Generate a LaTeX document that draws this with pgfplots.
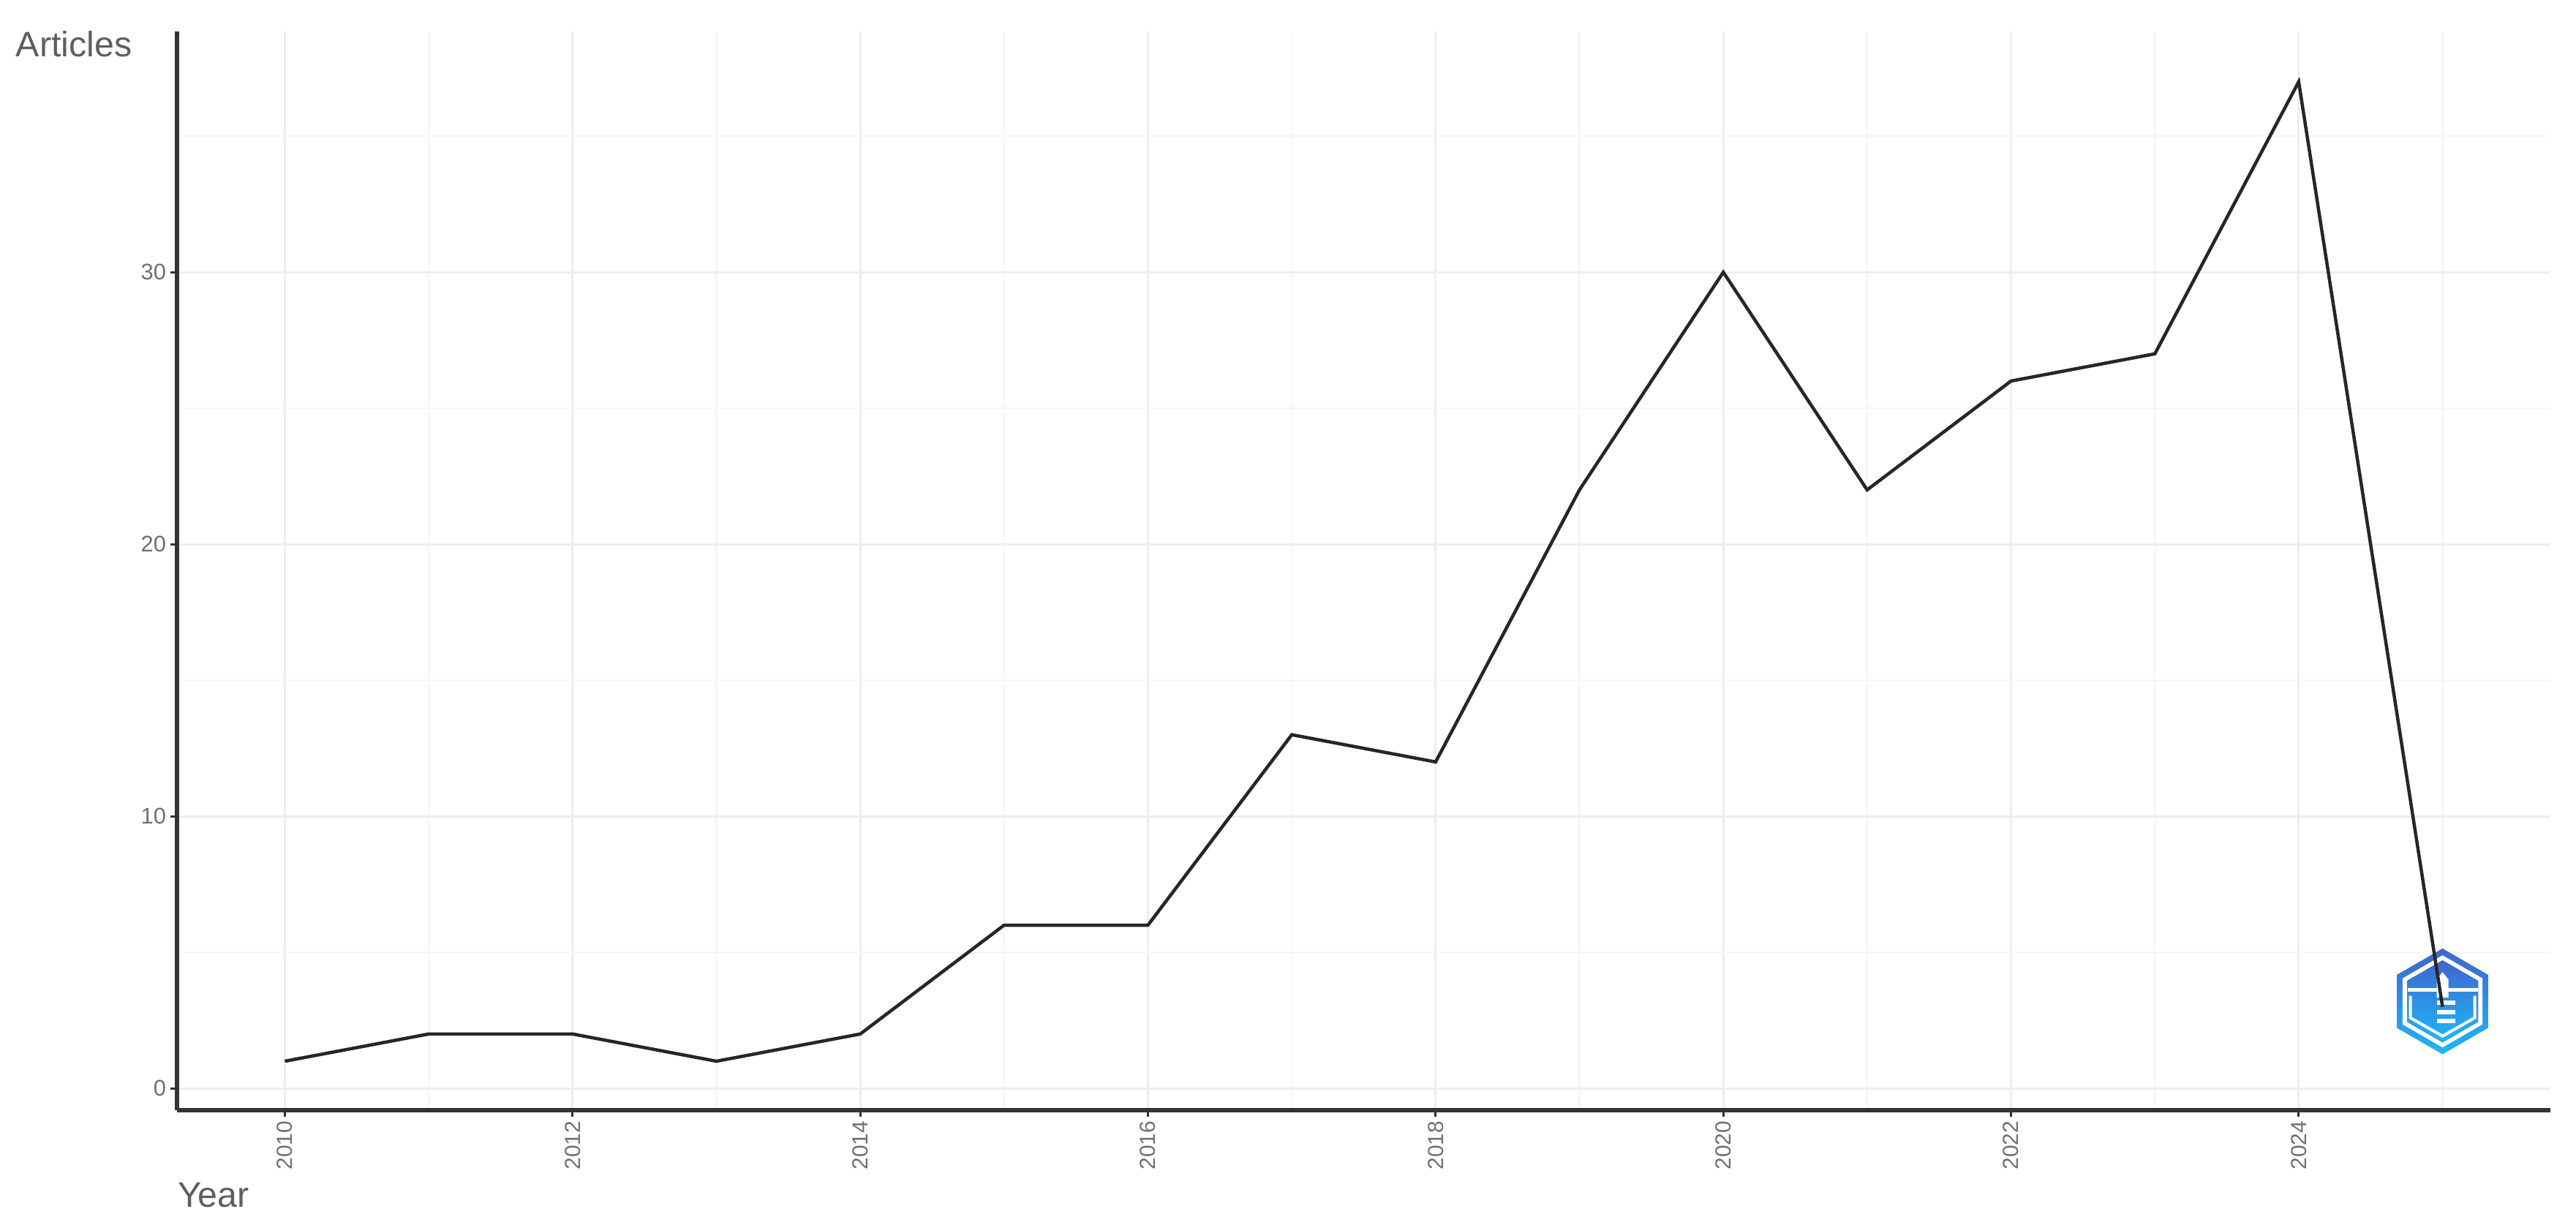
\documentclass[border=0pt]{standalone}
\usepackage{fontspec}
\setmainfont{Liberation Sans}
\usepackage{pgfplots}
\pgfplotsset{compat=1.18}
\definecolor{tickc}{HTML}{707070}
\definecolor{titlec}{HTML}{5E5E5E}
\definecolor{gridmaj}{HTML}{EEEEEE}
\definecolor{gridmin}{HTML}{F6F6F6}
\definecolor{spine}{HTML}{333333}
\definecolor{logotop}{HTML}{4065D0}
\definecolor{logobot}{HTML}{1BBAF7}
\newsavebox{\logobox}
\sbox{\logobox}{\begin{tikzpicture}
  \fill[top color=logotop, bottom color=logobot] (90:14.4bp) -- (150:14.4bp) -- (210:14.4bp) -- (270:14.4bp) -- (330:14.4bp) -- (30:14.4bp) -- cycle;
  \fill[white] (90:12.6bp) -- (150:12.6bp) -- (210:12.6bp) -- (270:12.6bp) -- (330:12.6bp) -- (30:12.6bp) -- cycle;
  \fill[top color=logotop, bottom color=logobot] (90:11.2bp) -- (150:11.2bp) -- (210:11.2bp) -- (270:11.2bp) -- (330:11.2bp) -- (30:11.2bp) -- cycle;
  \fill[white] (-9.6bp,2.6bp) rectangle (9.6bp,3.6bp);
  \fill[white] (-1.6bp,1bp) -- (-1.6bp,6bp) -- (0,8bp) -- (1.6bp,6bp) -- (1.6bp,1bp) -- cycle;
  \fill[white] (-1.5bp,-1bp) rectangle (3.5bp,0.2bp);
  \fill[white] (-1.5bp,-3.5bp) rectangle (3.5bp,-2.3bp);
  \fill[white] (-1.5bp,-6bp) rectangle (3.5bp,-4.8bp);
  \draw[white, line width=0.8bp] (-8.8bp,1.5bp) -- (-8.8bp,-4.5bp) -- (0,-9.5bp) -- (8.8bp,-4.5bp) -- (8.8bp,1.5bp);
\end{tikzpicture}}
\begin{document}
\begin{tikzpicture}
\useasboundingbox (0,0) rectangle (704.4bp,335bp);
\begin{axis}[
  at={(48.4bp,31.4bp)}, anchor=south west,
  scale only axis, width=649bp, height=295bp,
  xmin=2009.25, xmax=2025.75, ymin=-0.8, ymax=38.85,
  axis x line*=bottom, axis y line*=left,
  axis line style={spine, line width=1.2bp, -},
  xtick={2010,2012,...,2024}, minor xtick={2011,2013,...,2025},
  ytick={0,10,20,30}, minor ytick={5,15,25,35},
  xticklabel style={rotate=90, anchor=east, font=\fontsize{6}{7}\selectfont, text=tickc, inner sep=1bp},
  yticklabel style={anchor=east, font=\fontsize{6.2}{7}\selectfont, text=tickc, inner sep=1bp},
  /pgf/number format/1000 sep={},
  /pgf/number format/assume math mode=true,
  tick align=outside,
  major tick length=1.8bp, minor tick length=0pt,
  tick style={spine, line width=0.6bp},
  grid=both,
  major grid style={gridmaj, line width=0.6bp},
  minor grid style={gridmin, line width=0.5bp},
  clip=false,
]
\node[inner sep=0] at (axis cs:2025,3.2) {\usebox{\logobox}};
\addplot[black!85, line width=0.9bp] coordinates {
  (2010,1) (2011,2) (2012,2) (2013,1) (2014,2) (2015,6) (2016,6) (2017,13)
  (2018,12) (2019,22) (2020,30) (2021,22) (2022,26) (2023,27) (2024,37) (2025,3)
};
\end{axis}
\node[anchor=base west, font=\fontsize{9.7}{11}\selectfont, text=titlec, inner sep=0] at (4.2bp,319.4bp) {Articles};
\node[anchor=base west, font=\fontsize{9.7}{11}\selectfont, text=titlec, inner sep=0] at (48.4bp,5bp) {Year};
\end{tikzpicture}
\end{document}
